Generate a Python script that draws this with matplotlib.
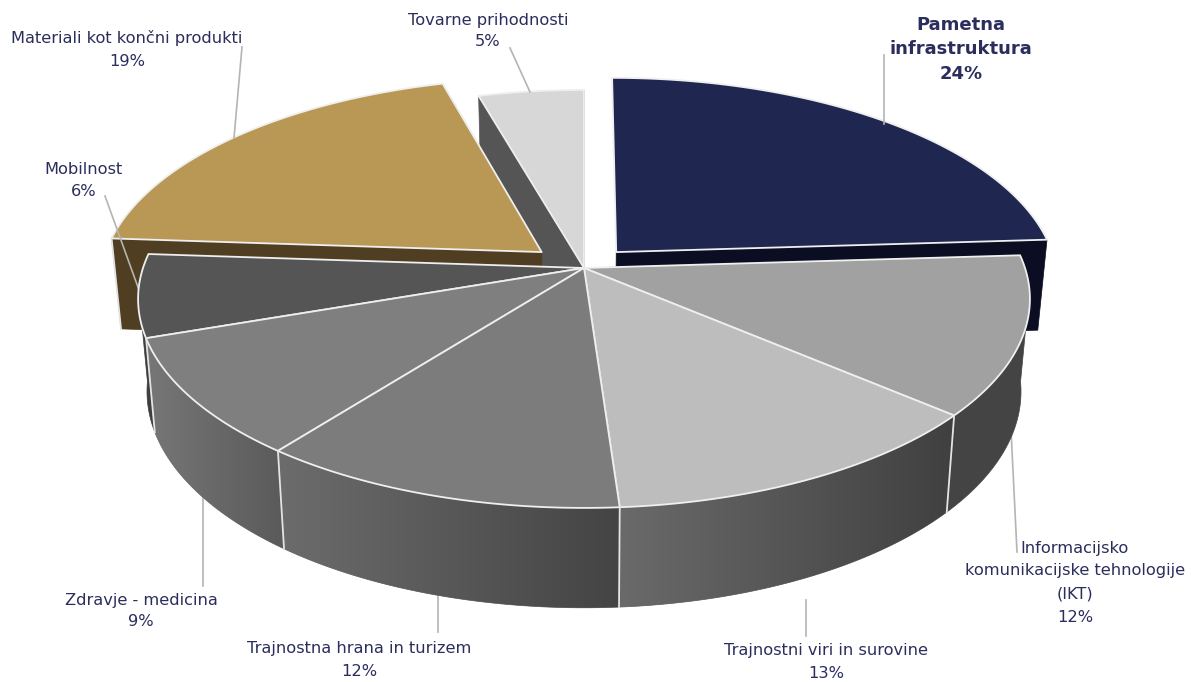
import numpy as np
import matplotlib
matplotlib.use("Agg")
import matplotlib.pyplot as plt
from matplotlib.colors import LinearSegmentedColormap
from matplotlib.patches import Polygon

# slices, clockwise from 12 o'clock
names = ["Pametna\ninfrastruktura", "Informacijsko\nkomunikacijske tehnologije\n(IKT)",
         "Trajnostni viri in surovine", "Trajnostna hrana in turizem", "Zdravje - medicina",
         "Mobilnost", "Materiali kot končni produkti", "Tovarne prihodnosti"]
shares = [24.0, 12.3, 12.6, 11.6, 9.2, 6.4, 19.5, 4.4]
pct_labels = ["24%", "12%", "13%", "12%", "9%", "6%", "19%", "5%"]

top_colors = ["#1f2650", "#a1a1a1", "#bdbdbd", "#7c7c7c", "#7f7f7f", "#555555", "#b99855", "#d7d7d7"]
# wall colour, from left to right
wall_colors = [("#0b0e22", "#0b0e22"), ("#444444", "#444444"), ("#6a6a6a", "#404040"), ("#6c6c6c", "#444444"),
               ("#777777", "#5a5a5a"), ("#3e3e3e", "#3e3e3e"), ("#4f3e22", "#4f3e22"), ("#555555", "#555555")]
explode = [0.108, 0, 0, 0, 0, 0, 0.125, 0]

label_x = [961, 1075, 826, 359, 141, 84, 127, 488]
label_y = [25, 548, 651, 649, 600, 169, 38, 20]
line_gap = [24.5, 23, 22, 23, 22, 22, 23, 22]

leaders = [((884, 55), (884, 124)), ((1011, 430), (1017, 552)), ((806, 600), (806, 636)), ((438, 595), (438, 632)),
           ((203, 490), (203, 586)), ((105, 196), (139, 290)), ((242, 47), (234, 138)), ((510, 48), (530, 92))]

# projection of the pie plane
cx, cy = 584, 268
rx, ry, persp = 441, 204.4, 0.148
wall_scale, wall_drop, wall_stretch = 0.98, 91.5, 0.035


def project(u, v):
    w = 1 + persp * v
    return cx + rx * u / w, cy - ry * v / w


def lower(x, y):
    return cx + (x - cx) * wall_scale, y + wall_drop + (y - cy) * wall_stretch


fig = plt.figure(figsize=(11.91, 6.82), dpi=100)
ax = fig.add_axes([0, 0, 1, 1])
ax.axis("off")

edges = np.cumsum([0] + shares) / sum(shares) * 2 * np.pi
z = [0]
wall_lines = []


def next_z():
    z[0] += 1
    return z[0]


def fill_wall(px, py, colors):
    poly = Polygon(np.column_stack([px, py]), closed=True, facecolor=colors[0], edgecolor=colors[0], lw=0.5,
                   zorder=next_z())
    ax.add_patch(poly)
    if colors[0] != colors[1]:
        cmap = LinearSegmentedColormap.from_list("wall", colors)
        im = ax.imshow(np.linspace(0, 1, 256).reshape(1, -1), cmap=cmap, aspect="auto", interpolation="bilinear",
                       extent=[min(px), max(px), max(py), min(py)], zorder=next_z())
        im.set_clip_path(poly)


def draw_slice(i):
    t = np.linspace(edges[i], edges[i + 1], 80)
    mid = (edges[i] + edges[i + 1]) / 2
    ou, ov = explode[i] * np.sin(mid), explode[i] * np.cos(mid)
    ax_, ay_ = project(ou, ov)
    x, y = project(np.sin(t) + ou, np.cos(t) + ov)
    lx, ly = lower(x, y)
    lax, lay = lower(ax_, ay_)
    # radial walls then the rim
    if i != 0:
        fill_wall([ax_, x[0], lx[0], lax], [ay_, y[0], ly[0], lay], (wall_colors[i][0], wall_colors[i][0]))
    fill_wall([ax_, x[-1], lx[-1], lax], [ay_, y[-1], ly[-1], lay], (wall_colors[i][1], wall_colors[i][1]))
    # the rim only shows below the silhouette, a fold there would cancel out
    front = np.cos(t) < -0.1
    if front.sum() > 1:
        fill_wall(np.r_[x[front], lx[front][::-1]], np.r_[y[front], ly[front][::-1]], wall_colors[i])
    # edge between the walls
    if t[0] > np.pi / 2 and t[0] < 1.6 * np.pi:
        wall_lines.append(([x[0], lx[0]], [y[0], ly[0]]))
    ax.add_patch(Polygon(np.column_stack([np.r_[ax_, x], np.r_[ay_, y]]), closed=True, facecolor=top_colors[i],
                         edgecolor="#efefef", lw=1.3, joinstyle="round", zorder=next_z()))


# back pieces first
for i in [7, 6, 0]:
    draw_slice(i)

for a, b in leaders:
    ax.plot([a[0], b[0]], [a[1], b[1]], color="#b4b4b4", lw=1.2, zorder=next_z())

for i in [5, 1, 4, 2, 3]:
    draw_slice(i)

for lxs, lys in wall_lines:
    ax.plot(lxs, lys, color="#e4e4e4", lw=1.3, zorder=next_z())

for i in range(len(names)):
    bold = i == 0
    lines = names[i].split("\n") + [pct_labels[i]]
    for j in range(len(lines)):
        ax.text(label_x[i], label_y[i] + j * line_gap[i], lines[j], ha="center", va="center",
                family="DejaVu Sans", fontsize=13 if bold else 11.7,
                fontweight="bold" if bold else "normal", color="#2b2e5c", zorder=500)

ax.set_xlim(0, 1191)
ax.set_ylim(682, 0)
fig.savefig("out.png", dpi=100)
